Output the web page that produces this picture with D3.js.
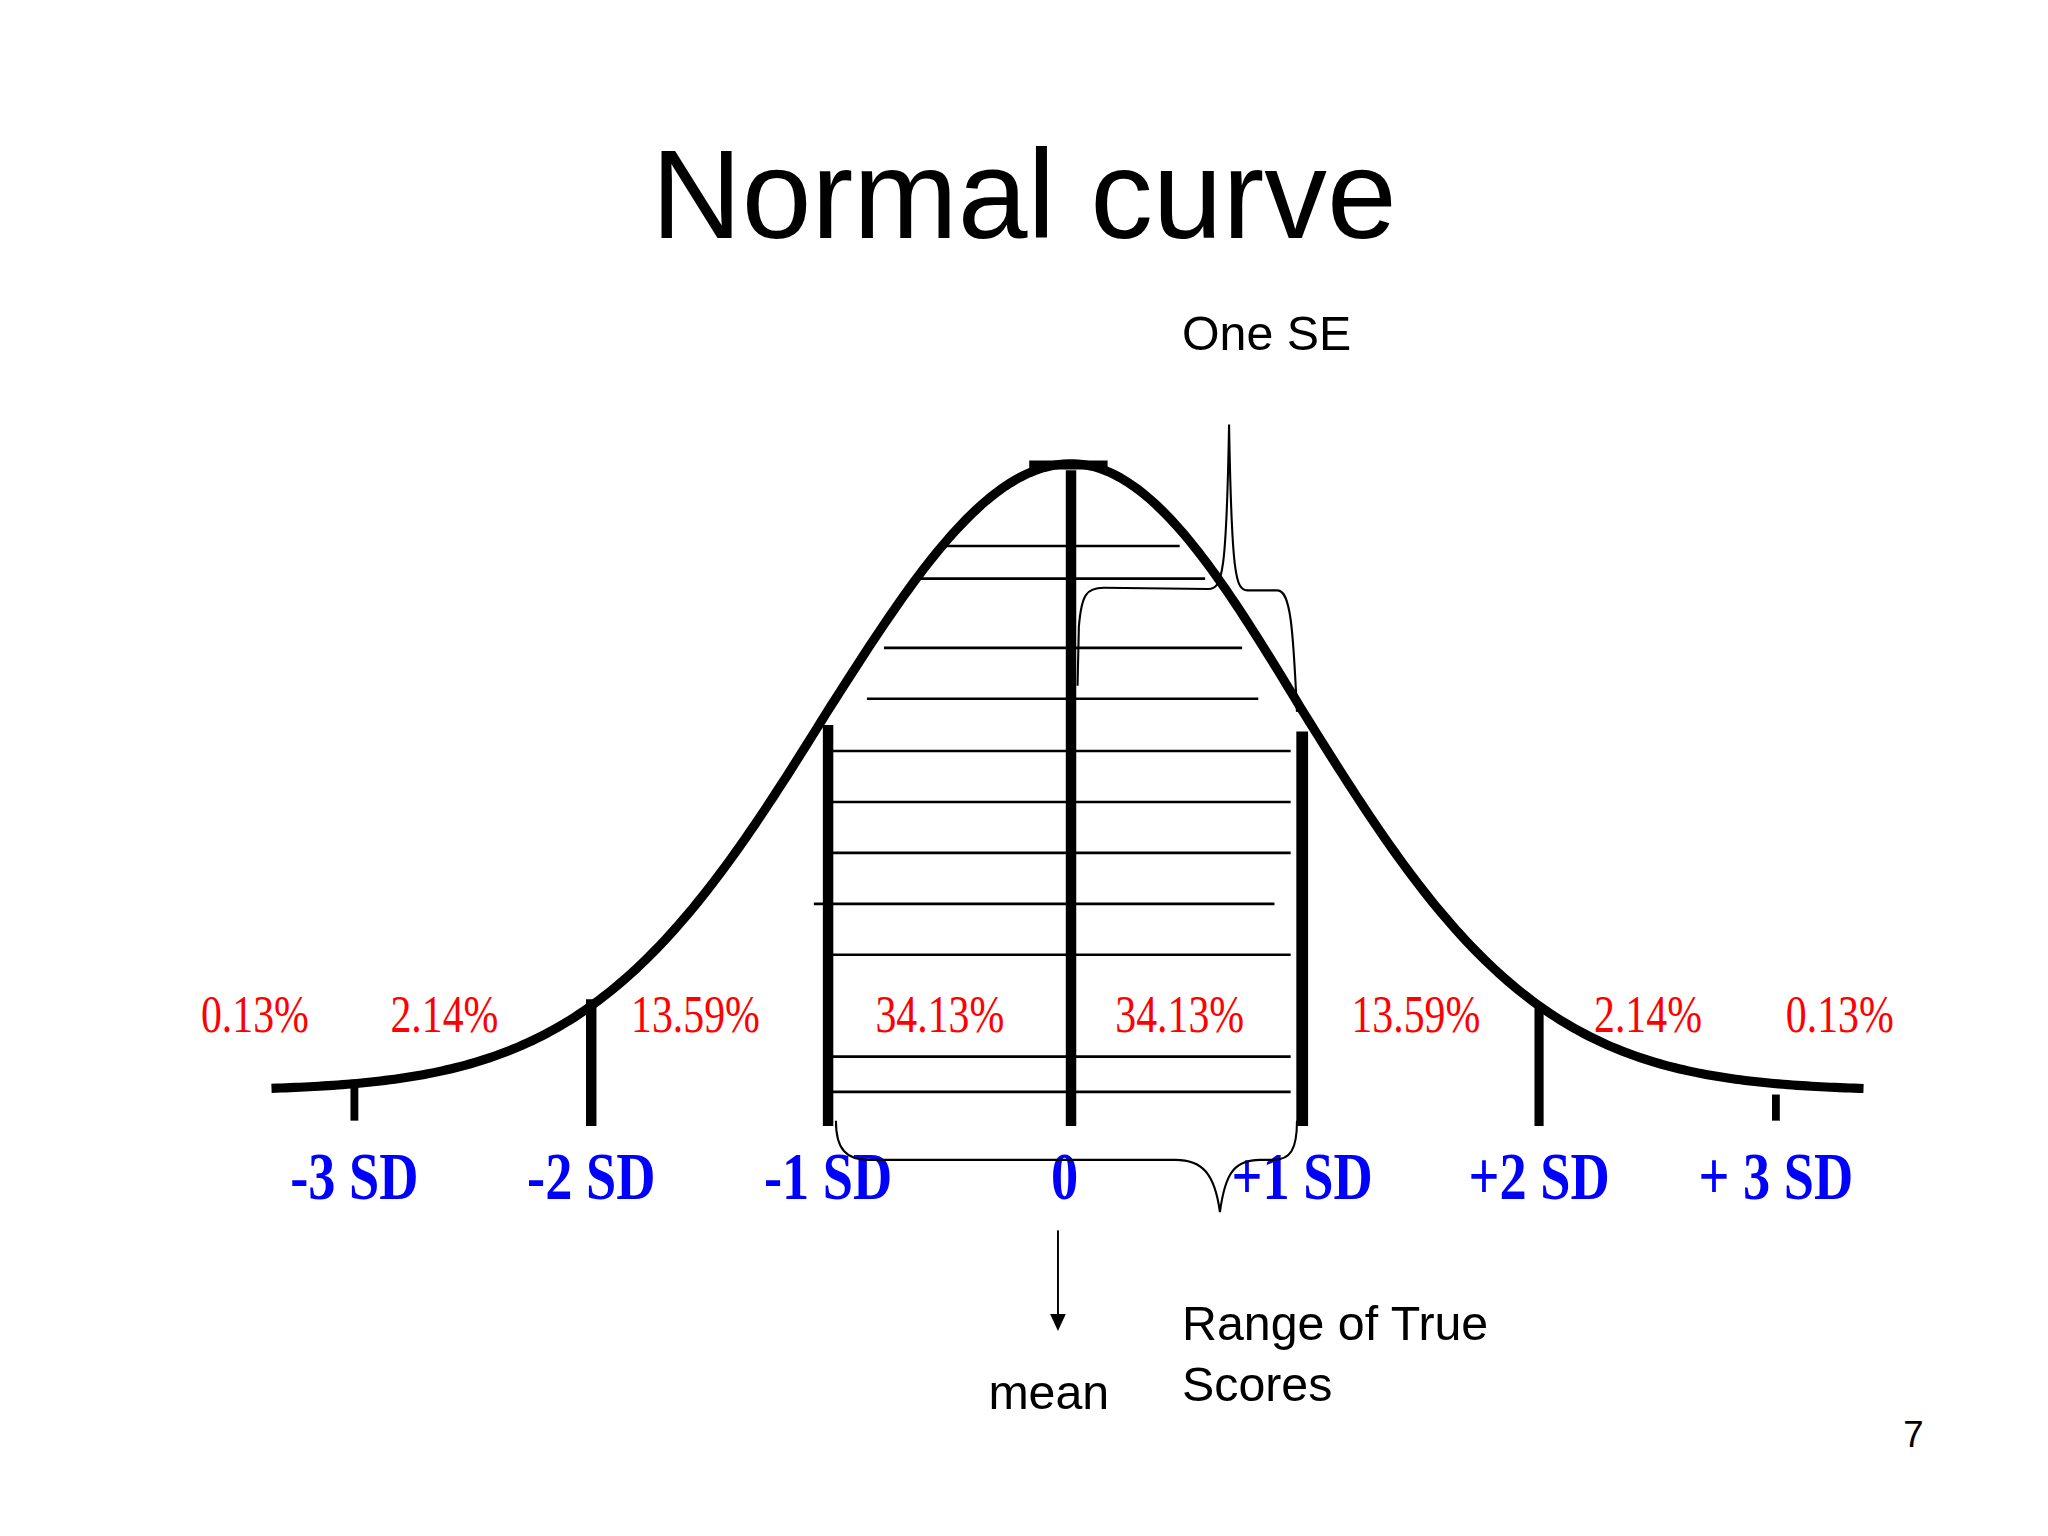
<!DOCTYPE html><html><head><meta charset="utf-8"><script src="https://cdn.jsdelivr.net/npm/d3@7"></script>
<style>body{margin:0;background:#fff}</style></head><body><svg id="c" width="2048" height="1536"></svg><script>
const sdTicks=[-3,-2,-1,0,1,2,3];
const sdLabels=["-3 SD","-2 SD","-1 SD","0","+1 SD","+2 SD","+ 3 SD"];
const pctLabels=["0.13%","2.14%","13.59%","34.13%","34.13%","13.59%","2.14%","0.13%"];
const pctPos=[-3.42,-2.62,-1.56,-0.54,0.47,1.48,2.46,3.27];
const hatchY=[418,443,496,535,575,614,653,692,731,809,836];
const hatchL=[-0.54,-0.63,-0.77,-0.84,-0.99,-0.99,-0.99,-1.06,-0.99,-0.99,-0.99];
const hatchR=[0.47,0.58,0.74,0.81,0.95,0.95,0.95,0.88,0.95,0.95,0.95];
const k=2048/1568;
const svg=d3.select("#c"),g=svg.append("g").attr("transform",`scale(${k})`);
const x=d3.scaleLinear().domain([-3,3]).range([268,1356]);
const xs=d3.scaleLinear().domain([-1,0,1]).range([634,820,997]);
const X=z=>z<=-1?x(z)+(634-x(-1)):(z>=1?x(z)+(997-x(1)):xs(z));
const y=d3.scaleLinear().domain([0,1]).range([835,355]);
const pdf=z=>Math.exp(-z*z/2);
const zs=d3.range(-3.35,3.39,0.02);
g.append("path").attr("d",d3.line().x(X).y(z=>y(pdf(z)))(zs)).attr("fill","none").attr("stroke","#000").attr("stroke-width",7);
g.append("line").attr("x1",788).attr("x2",848).attr("y1",356).attr("y2",356).attr("stroke","#000").attr("stroke-width",7);
g.selectAll(".h").data(hatchY).join("line").attr("x1",(d,i)=>X(hatchL[i])).attr("x2",(d,i)=>X(hatchR[i])).attr("y1",d=>d).attr("y2",d=>d).attr("stroke","#000").attr("stroke-width",2);
const vtop={"-3":830,"-2":765,"-1":555,"0":360,"1":560,"2":770,"3":838};
const vw={"-3":6,"-2":8,"-1":8,"0":8,"1":9,"2":7,"3":6};
g.selectAll(".v").data(sdTicks).join("line").attr("x1",d=>X(d)).attr("x2",d=>X(d)).attr("y1",d=>vtop[d]).attr("y2",d=>Math.abs(d)===3?858:862).attr("stroke","#000").attr("stroke-width",d=>vw[d]);
g.selectAll(".p").data(pctLabels).join("text").attr("x",(d,i)=>X(pctPos[i])).attr("y",790).attr("text-anchor","middle").attr("fill","#f00").attr("font-family","Liberation Serif").attr("font-size",40).attr("transform",(d,i)=>`translate(${X(pctPos[i])*0.2},0) scale(0.8,1)`).text(d=>d);
g.selectAll(".s").data(sdLabels).join("text").attr("x",(d,i)=>X(sdTicks[i])-(i===3?5:0)).attr("y",918).attr("text-anchor","middle").attr("fill","#00f").attr("font-family","Liberation Serif").attr("font-weight","bold").attr("font-size",52).attr("transform",(d,i)=>`translate(${(X(sdTicks[i])-(i===3?5:0))*0.2},0) scale(0.8,1)`).text(d=>d);
g.append("path").attr("d","M640,858 C640,880 648,888 665,888 L900,888 C920,888 930,898 934,928 C938,898 945,888 965,888 L975,888 C988,888 993,880 993,858").attr("fill","none").attr("stroke","#000").attr("stroke-width",1.6);
g.append("path").attr("d","M825,525 L826,480 C828,455 832,450 845,450 L925,451 C936,451 939,440 941,325 C943,440 946,452 955,452 L978,452 C988,452 990,480 993,545").attr("fill","none").attr("stroke","#000").attr("stroke-width",1.6);
g.append("line").attr("x1",810).attr("x2",810).attr("y1",942).attr("y2",1008).attr("stroke","#000").attr("stroke-width",1.5);
g.append("path").attr("d","M804,1006 L816,1006 L810,1019 Z").attr("fill","#000");
const t=(s,x0,y0,fs,a)=>g.append("text").attr("x",x0).attr("y",y0).attr("font-family","Liberation Sans").attr("font-size",fs).attr("text-anchor",a||"start").text(s);
t("Normal curve",784,182,96,"middle");
t("One SE",905,268,37);
t("Range of True",905,1026,37);
t("Scores",905,1073,37);
t("mean",803,1079,37,"middle");
t("7",1465,1108,28,"middle");
</script></body></html>
